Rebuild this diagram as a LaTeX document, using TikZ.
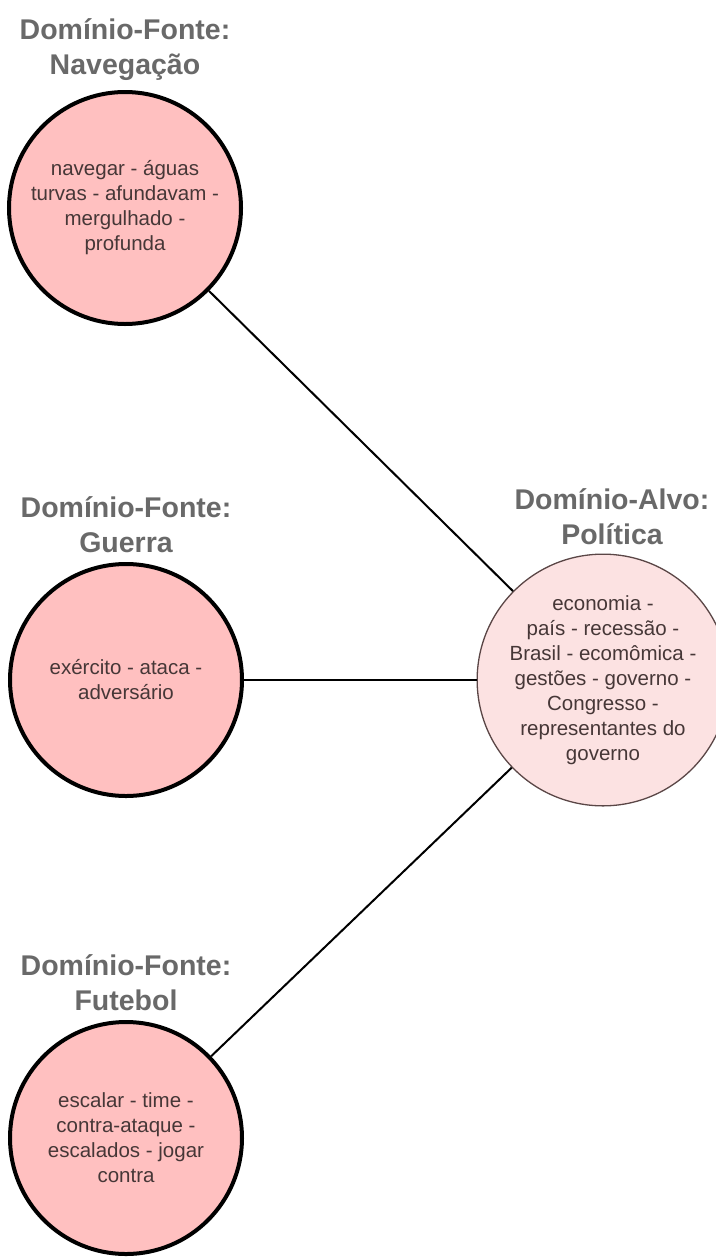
\documentclass[tikz,border=0pt]{standalone}
\usepackage{fontspec}
\setmainfont{Liberation Sans}
\usetikzlibrary{positioning}

\definecolor{fontefill}{RGB}{255,192,192}
\definecolor{alvofill}{RGB}{252,226,226}
\definecolor{alvodraw}{RGB}{90,70,70}
\definecolor{titulocor}{RGB}{105,105,105}
\definecolor{textocor}{RGB}{70,55,55}

\begin{document}
\begin{tikzpicture}[
    x=1pt, y=-1pt,
    fontebox/.style={
        circle,
        draw=black,
        line width=4pt,
        fill=fontefill,
        minimum size=232pt,
        align=center,
        inner sep=0pt,
        text=textocor,
        font=\fontsize{20.5}{25}\selectfont
    },
    alvobox/.style={
        fontebox,
        draw=alvodraw,
        line width=1.3pt,
        fill=alvofill,
        minimum size=216pt
    },
    titulo/.style={
        align=center,
        text=titulocor,
        inner sep=0pt,
        font=\fontsize{28.5}{35}\selectfont\bfseries
    },
    ligacao/.style={
        line width=2pt,
        draw=black
    }
]
\useasboundingbox (0,0) rectangle (715,1258);

% Source domains
\node[fontebox] (navegacao) at (125,208) {navegar - águas\\turvas - afundavam -\\mergulhado -\\profunda};
\node[fontebox] (guerra) at (126,680) {exército - ataca -\\adversário};
\node[fontebox] (futebol) at (126,1138) {escalar - time -\\contra-ataque -\\escalados - jogar\\contra};

% Target domain
\node[alvobox] (politica) at (603,680) {economia -\\país - recessão -\\Brasil - ecomômica -\\gestões - governo -\\Congresso -\\representantes do\\governo};

% Titles
\node[titulo, above=9pt of navegacao] (tnavegacao) {Domínio-Fonte:\\Navegação};
\node[titulo, above=9pt of guerra] (tguerra) {Domínio-Fonte:\\Guerra};
\node[titulo, above=9pt of futebol] (tfutebol) {Domínio-Fonte:\\Futebol};
\node[titulo, above=9pt of politica, xshift=9pt] (tpolitica) {Domínio-Alvo:\\Política};

% Connectors
\draw[ligacao] (navegacao) -- (politica);
\draw[ligacao] (guerra) -- (politica);
\draw[ligacao] (futebol) -- (politica);

\end{tikzpicture}
\end{document}
